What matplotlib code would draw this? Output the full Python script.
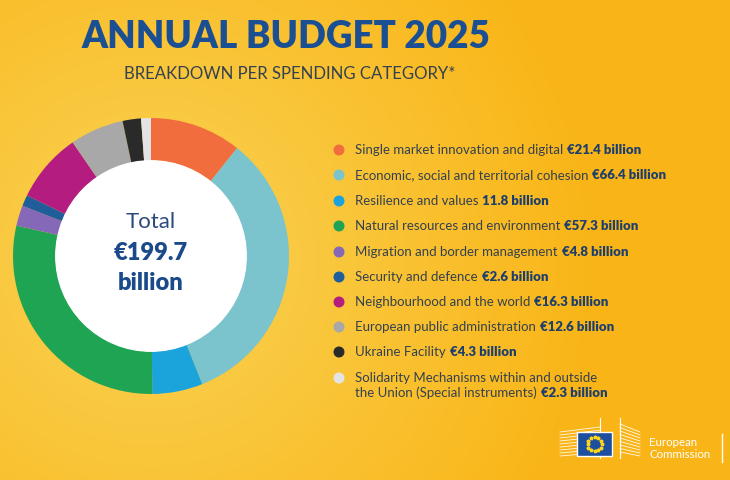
import numpy as np
import matplotlib.pyplot as plt
from matplotlib.patches import Circle, Rectangle

# ── Data ───────────────────────────────────────────────────────────────────
CATEGORIES = [
    'Single market innovation and digital',
    'Economic, social and territorial cohesion',
    'Resilience and values',
    'Natural resources and environment',
    'Migration and border management',
    'Security and defence',
    'Neighbourhood and the world',
    'European public administration',
    'Ukraine Facility',
    'Solidarity Mechanisms within and outside\nthe Union (Special instruments)',
]
VALUES = [21.4, 66.4, 11.8, 57.3, 4.8, 2.6, 16.3, 12.6, 4.3, 2.3]
VALUE_LABELS = ['€21.4 billion', '€66.4 billion', '11.8 billion', '€57.3 billion',
                '€4.8 billion', '€2.6 billion', '€16.3 billion', '€12.6 billion',
                '€4.3 billion', '€2.3 billion']
COLORS = ['#F26D3D', '#7BC3CD', '#1BA3DC', '#1FA453', '#8569B8',
          '#1F5E9B', '#B41C80', '#A8A8A8', '#2A2A2A', '#E4E4E4']
TOTAL_LABEL = '€199.7'

FONT = 'Lato'
TITLE_BLUE = '#1B4F93'
TEXT_GREY = '#34414F'
VALUE_BLUE = '#1E3F6C'

W, H = 730, 480
fig = plt.figure(figsize=(W / 100, H / 100), dpi=100)

# ── Background: warm yellow with a soft glow around the donut ──────────────
bg = fig.add_axes([0, 0, 1, 1])
yy, xx = np.mgrid[0:H, 0:W]
d = np.sqrt((xx - 150) ** 2 + (yy - 260) ** 2)
t = np.clip((d - 120) / 330, 0, 1)
c_in = np.array([0xFA, 0xCB, 0x45]) / 255
c_out = np.array([0xF9, 0xB5, 0x17]) / 255
img = c_in[None, None, :] * (1 - t[..., None]) + c_out[None, None, :] * t[..., None]
bg.imshow(img, extent=[0, W, H, 0], aspect='auto', zorder=0)
bg.set_xlim(0, W); bg.set_ylim(H, 0)
bg.axis('off')

# ── Titles ─────────────────────────────────────────────────────────────────
bg.text(286, 37, 'ANNUAL BUDGET 2025', ha='center', va='center',
        fontsize=26.5, fontweight='heavy', color=TITLE_BLUE, family=FONT)
bg.text(290, 74, 'BREAKDOWN PER SPENDING CATEGORY*', ha='center', va='center',
        fontsize=12.1, color=TEXT_GREY, family=FONT)

# ── Donut ──────────────────────────────────────────────────────────────────
cx, cy, r = 151, 256, 138
ax = fig.add_axes([(cx - r) / W, (H - cy - r) / H, 2 * r / W, 2 * r / H])
ax.pie(VALUES, colors=COLORS, startangle=90, counterclock=False,
       wedgeprops=dict(width=0.31, linewidth=0))
ax.add_patch(Circle((0, 0), 0.69, color='white', zorder=3))
ax.set_aspect('equal')
ax.set_xlim(-1, 1); ax.set_ylim(-1, 1)

# centre labels drawn with the donut axes so they sit above the white disc
ax.text(cx, 222, 'Total', ha='center', va='center', fontsize=16,
        color='#2C4A7C', family=FONT, zorder=5, transform=bg.transData)
ax.text(cx, 253, TOTAL_LABEL, ha='center', va='center', fontsize=17,
        fontweight='heavy', color='#1A4A8A', family=FONT, zorder=5,
        transform=bg.transData)
ax.text(cx, 283, 'billion', ha='center', va='center', fontsize=17,
        fontweight='heavy', color='#1A4A8A', family=FONT, zorder=5,
        transform=bg.transData)

# ── Legend ─────────────────────────────────────────────────────────────────
row_y = [150, 175, 201, 226, 252, 277, 302, 327, 352, 378]
fig.canvas.draw()
renderer = fig.canvas.get_renderer()
for y, name, val, col in zip(row_y, CATEGORIES, VALUE_LABELS, COLORS):
    bg.add_patch(Circle((339, y), 4.8, color=col, zorder=4))
    lines = name.split('\n')
    for k, line in enumerate(lines):
        ly = y + 15 * k
        txt = bg.text(355, ly, line, ha='left', va='center', fontsize=9.5,
                      color=TEXT_GREY, family=FONT, zorder=4)
        if k == len(lines) - 1:
            bb = txt.get_window_extent(renderer)
            x_end = bb.x1 * W / fig.bbox.width
            bg.text(x_end + 4, ly, val, ha='left', va='center', fontsize=9.5,
                    fontweight='heavy', color=VALUE_BLUE, family=FONT, zorder=4)

# ── European Commission logo (simplified) ──────────────────────────────────
for i in range(9):
    yl = 430 + i * 3
    bg.plot([560, 600], [yl + 2, yl - 3 + i * 0.2], color='white', lw=0.6, alpha=0.9)
    bg.plot([620, 640], [yl - 6 + i * 0.5, yl + 2], color='white', lw=0.6, alpha=0.9)
bg.plot([620, 620], [418, 458], color='white', lw=0.8)
bg.plot([600, 600], [418, 458], color='white', lw=0.8)
bg.add_patch(Rectangle((577, 432), 35, 24, facecolor='#1C4FA0',
                       edgecolor='white', lw=1.0, zorder=5))
for a in np.linspace(0, 2 * np.pi, 12, endpoint=False):
    bg.plot(594.5 + 7 * np.cos(a), 444 + 7 * np.sin(a), marker='*',
            color='#FFD617', markersize=2.6, zorder=6)
bg.text(649, 442, 'European', ha='left', va='center', fontsize=8.3,
        color='white', family=FONT)
bg.text(649, 455, 'Commission', ha='left', va='center', fontsize=8.3,
        color='white', family=FONT)
bg.plot([722, 722], [434, 462], color='white', lw=1.0)

fig.savefig('out.png', dpi=100)
